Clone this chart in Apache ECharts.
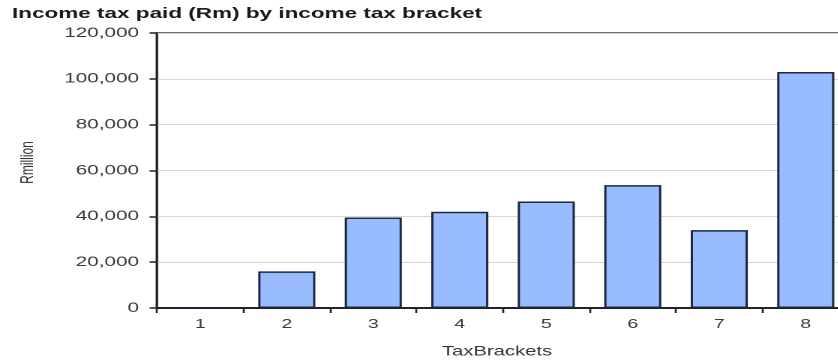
<!DOCTYPE html>
<html>
<head>
<meta charset="utf-8">
<script src="https://cdn.jsdelivr.net/npm/echarts@6/dist/echarts.min.js"></script>
<style>
  html, body { margin: 0; padding: 0; background: #fff; overflow: hidden; }
  #frame { width: 838px; height: 361px; overflow: hidden; position: relative; }
  /* The chart is laid out on a narrower canvas and widened, giving the wide lettering */
  #chart { width: 559px; height: 361px; transform: scaleX(1.5); transform-origin: 0 0; }
</style>
</head>
<body>
<div id="frame"><div id="chart"></div></div>
<script>
// Income tax paid per bracket, in R million
const brackets = ['1', '2', '3', '4', '5', '6', '7', '8'];
const taxPaid = [0, 16000, 39500, 42000, 46500, 53600, 34000, 103000];
const yTicks = [0, 20000, 40000, 60000, 80000, 100000, 120000];

const chart = echarts.init(document.getElementById('chart'), null, { renderer: 'canvas', devicePixelRatio: 2 });
const font = 'Liberation Sans, Arial, sans-serif';

chart.setOption({
  animation: false,
  backgroundColor: '#ffffff',
  title: {
    text: 'Income tax paid (Rm) by income tax bracket',
    left: 3,
    top: 1.5,
    textStyle: { fontFamily: font, fontSize: 15, fontWeight: 'bold', color: '#1a1a1a' }
  },
  grid: {
    left: 104.7,
    top: 33,
    width: 461.3,
    height: 275,
    outerBoundsMode: 'none',
    show: true,
    borderColor: '#3a3a3a',
    borderWidth: 1.5
  },
  xAxis: {
    type: 'category',
    data: brackets,
    name: 'TaxBrackets',
    nameLocation: 'middle',
    nameGap: 37,
    nameTextStyle: { fontFamily: font, fontSize: 13.5, color: '#333', padding: [0, 8, 0, 0] },
    axisLine: { lineStyle: { color: '#222', width: 2 } },
    axisTick: { show: true, length: 5, lineStyle: { color: '#222', width: 1.3 } },
    axisLabel: { fontFamily: font, fontSize: 13, color: '#3a3a3a', margin: 10 }
  },
  yAxis: {
    type: 'value',
    min: yTicks[0],
    max: yTicks[yTicks.length - 1],
    interval: yTicks[1] - yTicks[0],
    name: 'Rmillion',
    nameLocation: 'middle',
    nameGap: 80,
    nameRotate: 90,
    nameTextStyle: { fontFamily: font, fontSize: 12, color: '#333', padding: [0, 0, 0, 16] },
    axisLine: { show: true, lineStyle: { color: '#222', width: 1.4 } },
    axisTick: { show: true, length: 5, lineStyle: { color: '#222', width: 1.5 } },
    axisLabel: {
      fontFamily: font, fontSize: 13.8, color: '#3a3a3a', margin: 12,
      formatter: v => v.toLocaleString('en-US')
    },
    splitLine: { show: true, lineStyle: { color: '#d6d6d6', width: 1 } }
  },
  series: [{
    type: 'bar',
    data: taxPaid,
    barWidth: '66%',
    itemStyle: { color: '#99bbff', borderColor: '#1c2840', borderWidth: 1.5 }
  }]
});
</script>
</body>
</html>
